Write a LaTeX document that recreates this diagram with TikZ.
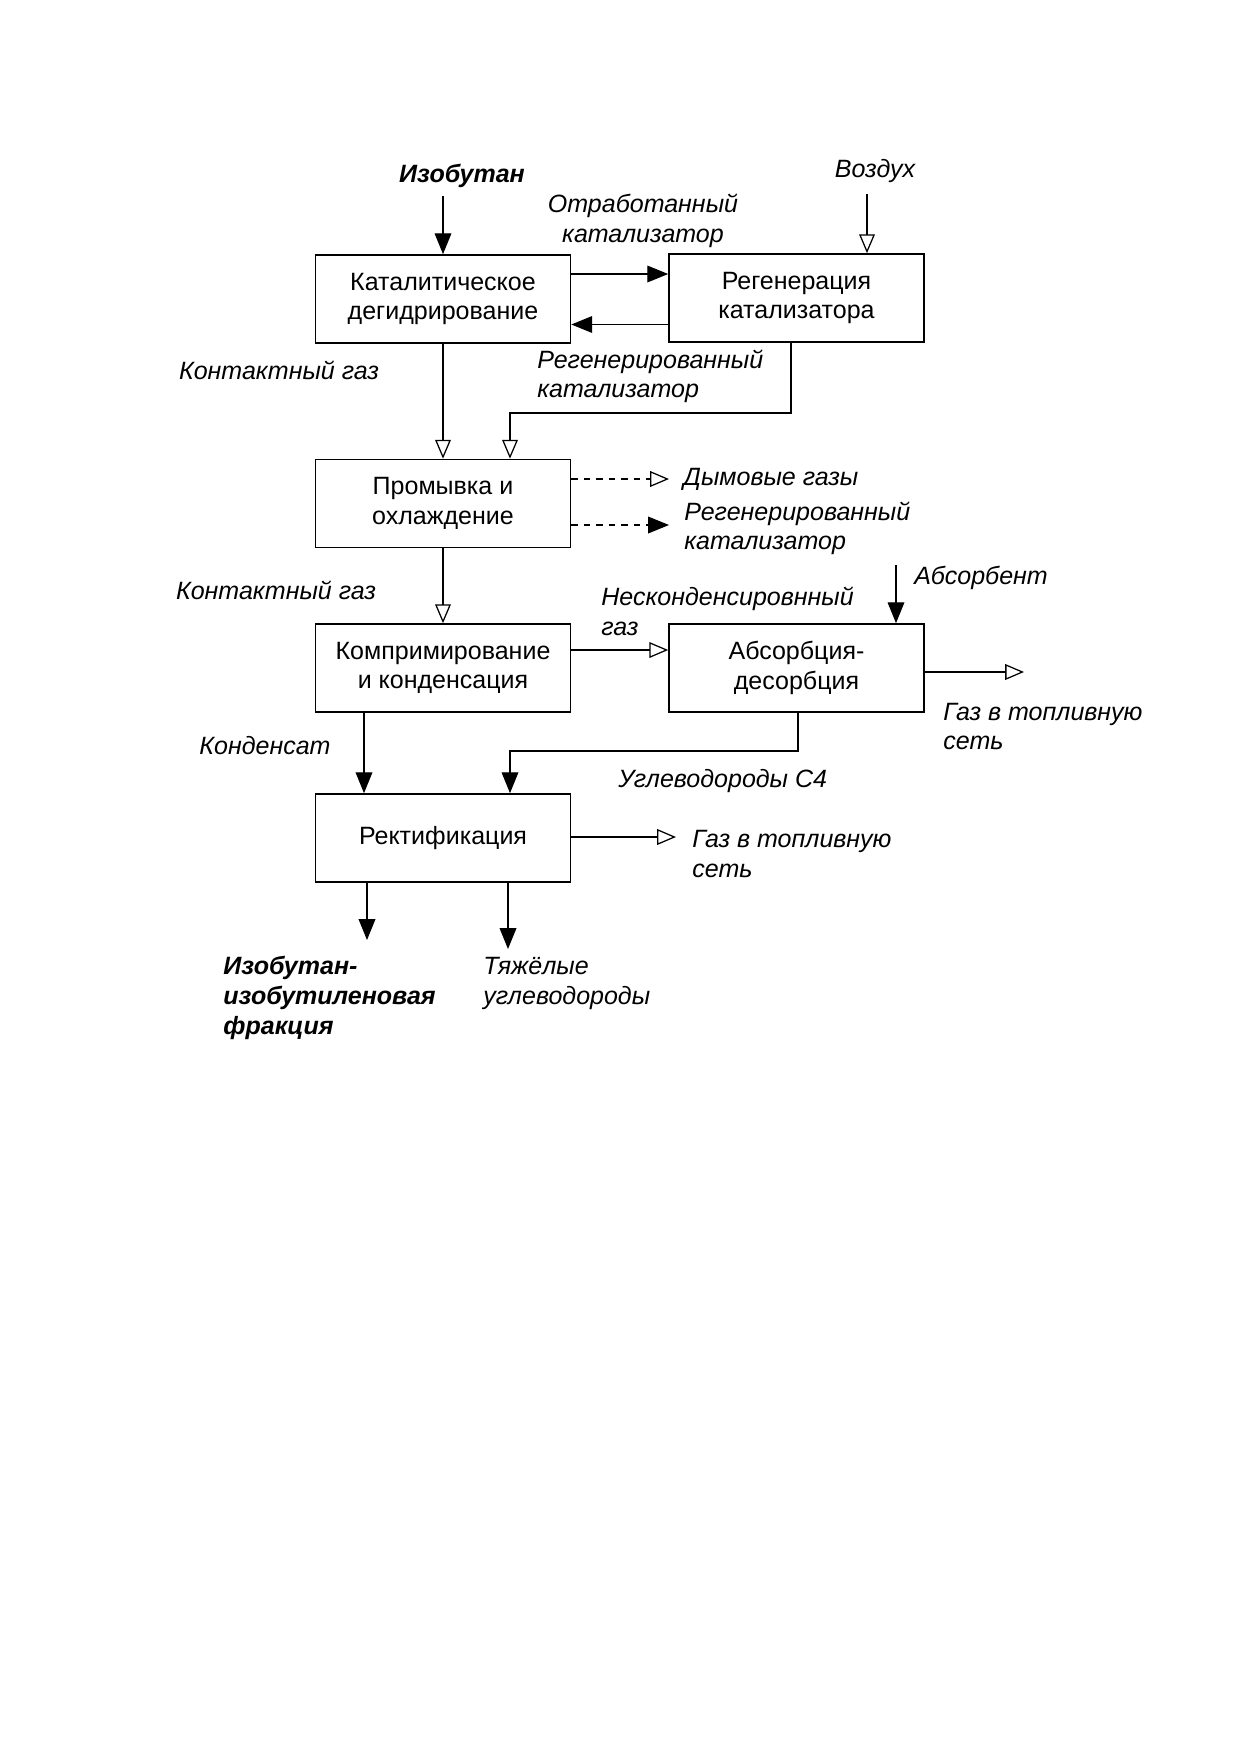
\documentclass[tikz,border=0pt]{standalone}
\usepackage{fontspec}
\setmainfont{Liberation Sans}
\usetikzlibrary{arrows.meta}
\begin{document}
\begin{tikzpicture}[x=0.4797pt,y=-0.4797pt,
  box/.style={draw,line width=0.8pt,minimum width=122.3pt,minimum height=42.2pt,align=center,font=\fontsize{12}{14.2}\selectfont,inner sep=0pt},
  lbl/.style={font=\fontsize{12}{14.2}\selectfont\itshape,inner sep=0pt},
  lblb/.style={font=\fontsize{12}{14.2}\selectfont\bfseries\itshape,inner sep=0pt},
  ln/.style={line width=0.6pt},
  fa/.style={ln,-{Triangle[length=10pt,width=8pt]}},
  oa/.style={ln,-{Triangle[open,length=9pt,width=7.5pt]}},
]
\useasboundingbox (0,0) rectangle (1241,1755);
\fill[white] (0,0) rectangle (1241,1755);

% boxes
\node[box] (b1) at (443,299) {Каталитическое\\дегидрирование};
\node[box] (b2) at (796.5,298) {Регенерация\\катализатора};
\node[box] (b3) at (443,503.5) {Промывка и\\охлаждение};
\node[box] (b4) at (443,668) {Компримирование\\и конденсация};
\node[box] (b5) at (796.5,668) {Абсорбция-\\десорбция};
\node[box] (b6) at (443,838) {Ректификация};

% labels
\node[lblb] (iso) at (462,176) {Изобутан};
\node[lbl] (vozd) at (875,171) {Воздух};
\node[lbl,align=center] (otrab) at (643,221) {Отработанный\\катализатор};
\node[lbl] (kg1) at (279,370) {Контактный газ};
\node[lbl,align=left,anchor=west] (regen1) at (537,376.5) {Регенерированный\\катализатор};
\node[lbl,anchor=west] (dym) at (683,479) {Дымовые газы};
\node[lbl,align=left,anchor=west] (regen2) at (684,528.5) {Регенерированный\\катализатор};
\node[lbl] (kg2) at (276,590) {Контактный газ};
\node[lbl,align=left,anchor=west] (nesk) at (601,611.5) {Несконденсировнный\\газ};
\node[lbl,anchor=west] (absorb) at (914,578) {Абсорбент};
\node[lbl,align=left,anchor=west] (gaz1) at (943,726.5) {Газ в топливную\\сеть};
\node[lbl] (kond) at (265,746) {Конденсат};
\node[lbl,anchor=west] (ugl) at (618,781) {Углеводороды С4};
\node[lbl,align=left,anchor=west] (gaz2) at (692,854) {Газ в топливную\\сеть};
\node[lblb,align=left,anchor=west] (iif) at (223,998) {Изобутан-\\изобутиленовая\\фракция};
\node[lbl,align=left,anchor=west] (tyazh) at (483,983.5) {Тяжёлые\\углеводороды};

% free ends
\coordinate (isoS) at (443,196);
\coordinate (vozdS) at (867,194);
\coordinate (absS) at (896,565);
\coordinate (dymE) at (669,479);
\coordinate (regE) at (669,525);
\coordinate (gaz1E) at (1024,672);
\coordinate (gaz2E) at (676,837);
\coordinate (iifE) at (367,940);
\coordinate (tyE) at (508,949);

% connectors
\draw[fa] (isoS) -- (b1.north -| isoS);
\draw[oa] (vozdS) -- (b2.north -| vozdS);
\draw[fa] (b1.east |- 0,274) -- (b2.west |- 0,274);
\draw[fa] (b2.west |- 0,324.5) -- (b1.east |- 0,324.5);
\draw[oa] (b1.south) -- (b3.north);
\draw[oa] (b2.south -| 791,0) -- (791,413) -- (510,413) -- (b3.north -| 510,0);
\draw[oa,dashed] (b3.east |- dymE) -- (dymE);
\draw[fa,dashed] (b3.east |- regE) -- (regE);
\draw[oa] (b3.south) -- (b4.north);
\draw[oa] (b4.east |- 0,650) -- (b5.west |- 0,650);
\draw[fa] (absS) -- (b5.north -| absS);
\draw[oa] (b5.east |- gaz1E) -- (gaz1E);
\draw[fa] (b4.south -| 364,0) -- (b6.north -| 364,0);
\draw[fa] (b5.south -| 798,0) -- (798,751) -- (510,751) -- (b6.north -| 510,0);
\draw[oa] (b6.east |- gaz2E) -- (gaz2E);
\draw[fa] (b6.south -| iifE) -- (iifE);
\draw[fa] (b6.south -| tyE) -- (tyE);
\end{tikzpicture}
\end{document}
